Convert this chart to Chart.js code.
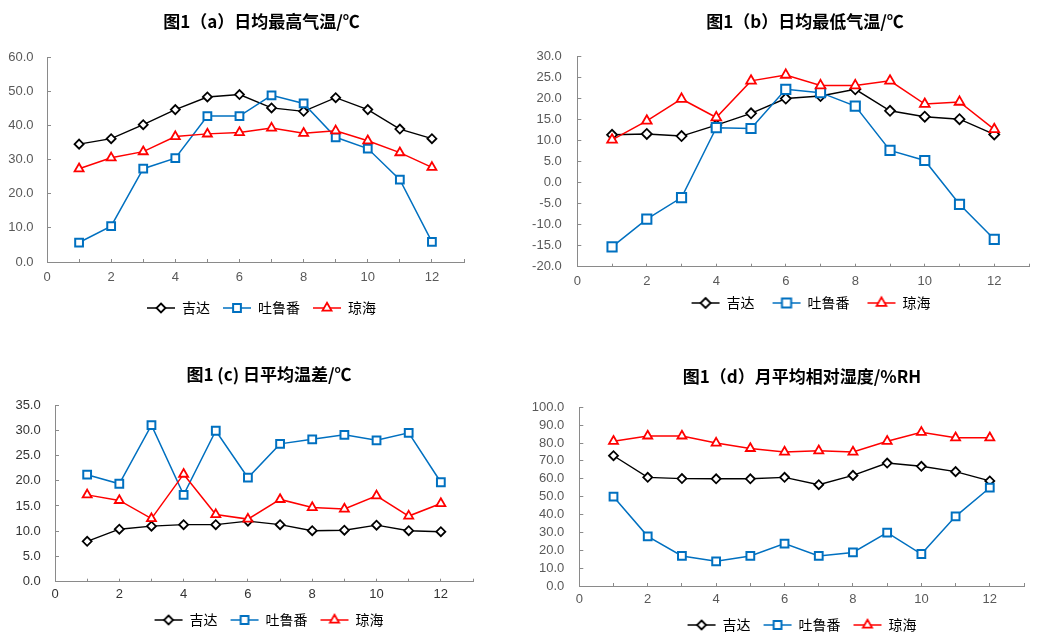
<!DOCTYPE html>
<html>
<head>
<meta charset="utf-8">
<script src="https://cdn.jsdelivr.net/npm/chart.js@4.4.1/dist/chart.umd.min.js"></script>
<style>
  html, body { margin: 0; padding: 0; background: #fff; overflow: hidden; width: 1044px; height: 639px; }
  canvas { position: absolute; }
</style>
</head>
<body>
<canvas id="chartA"></canvas>
<canvas id="chartB"></canvas>
<canvas id="chartC"></canvas>
<canvas id="chartD"></canvas>
<script>
// months on the x axis
const months = [1, 2, 3, 4, 5, 6, 7, 8, 9, 10, 11, 12]
const cities = ['吉达', '吐鲁番', '琼海']

// (a) daily mean max temperature
const maxJida = [34.5, 36.1, 40.2, 44.6, 48.3, 49.0, 45.1, 44.1, 48.1, 44.6, 38.9, 36.1]
const maxTurpan = [5.7, 10.5, 27.3, 30.4, 42.7, 42.7, 48.8, 46.4, 36.5, 33.2, 24.1, 5.9]
const maxQionghai = [27.3, 30.5, 32.3, 36.7, 37.5, 37.9, 39.2, 37.7, 38.4, 35.5, 32.0, 27.7]

// (b) daily mean min temperature
const minJida = [11.3, 11.5, 11.0, 13.6, 16.4, 19.9, 20.5, 22.1, 17.0, 15.6, 15.0, 11.4]
const minTurpan = [-15.3, -8.7, -3.6, 13.0, 12.8, 22.1, 21.3, 18.1, 7.6, 5.2, -5.2, -13.5]
const minQionghai = [10.1, 14.6, 19.8, 15.4, 24.1, 25.5, 23.0, 23.0, 24.1, 18.6, 19.1, 12.6]

// (c) daily mean temperature range
const diffJida = [8.0, 10.4, 11.0, 11.3, 11.3, 12.0, 11.3, 10.1, 10.2, 11.2, 10.1, 9.9]
const diffTurpan = [21.2, 19.4, 31.0, 17.2, 29.9, 20.6, 27.3, 28.2, 29.1, 28.0, 29.5, 19.7]
const diffQionghai = [17.2, 16.1, 12.5, 21.3, 13.3, 12.4, 16.3, 14.7, 14.4, 17.0, 13.0, 15.5]

// (d) monthly mean relative humidity
const rhJida = [72.9, 60.8, 60.1, 60.0, 60.0, 60.8, 56.7, 61.9, 68.8, 67.0, 64.0, 58.8]
const rhTurpan = [50.0, 27.8, 16.8, 13.8, 16.8, 23.7, 16.8, 18.8, 29.9, 17.9, 39.0, 55.0]
const rhQionghai = [81.0, 84.0, 84.0, 80.0, 77.0, 75.0, 75.7, 75.0, 81.0, 86.0, 83.0, 83.0]

const AXIS = '#8a8a8a'
const TEXT = '#595959'
const CJK = '"Noto Sans CJK SC", "Noto Sans", sans-serif'
const NUM = '"Liberation Sans", Arial, sans-serif'

const styles = [
  { color: '#000000', shape: 'diamond', line: 1.4, border: 1.8 },
  { color: '#0070C0', shape: 'square', line: 1.5, border: 2 },
  { color: '#FF0000', shape: 'triangle', line: 1.5, border: 1.8 }
]

function drawShape(g, shape, cx, cy, r) {
  g.beginPath()
  if (shape === 'diamond') {
    g.moveTo(cx, cy - r); g.lineTo(cx + r, cy); g.lineTo(cx, cy + r); g.lineTo(cx - r, cy)
  } else if (shape === 'square') {
    let s = r * Math.SQRT1_2
    g.rect(cx - s, cy - s, 2 * s, 2 * s)
  } else {
    for (let k = 0; k < 3; k++) {
      let a = k * 2 * Math.PI / 3
      let px = cx + Math.sin(a) * r, py = cy - Math.cos(a) * r
      if (k === 0) g.moveTo(px, py); else g.lineTo(px, py)
    }
  }
  g.closePath()
  g.fillStyle = '#fff'
  g.fill()
  g.stroke()
}

// legend symbol: line with the marker on it, `lead` px of blank space before it
function legendIcon(st, r, lead) {
  let boxW = 28 + lead
  let c = document.createElement('canvas')
  c.width = boxW * 2
  c.height = 16
  let g = c.getContext('2d')
  let x0 = boxW / 2 + lead
  g.strokeStyle = st.color
  g.lineWidth = 1.5
  g.beginPath(); g.moveTo(x0, 8); g.lineTo(x0 + 28, 8); g.stroke()
  g.lineWidth = st.border
  drawShape(g, st.shape, x0 + 14, 8, r)
  return c
}

function makeChart(id, geo, title, values, yMin, yMax, yStep, sizes) {
  let canvas = document.getElementById(id)
  canvas.width = geo.w
  canvas.height = geo.h
  canvas.style.left = geo.left + 'px'
  canvas.style.top = geo.top + 'px'
  let lead = geo.lead || 0
  let shapeToStyle = { diamond: 'rectRot', square: 'rect', triangle: 'triangle' }
  let datasets = values.map((vals, i) => ({
    label: cities[i],
    data: months.map((m, j) => ({ x: m, y: vals[j] })),
    borderColor: styles[i].color,
    borderWidth: styles[i].line,
    pointStyle: shapeToStyle[styles[i].shape],
    pointRadius: sizes[i],
    pointBorderWidth: styles[i].border,
    pointBackgroundColor: '#fff',
    pointBorderColor: styles[i].color,
    fill: false,
    tension: 0,
    order: 3 - i,
    xAxisID: 'x',
    yAxisID: 'y'
  }))
  let icons = values.map((v, i) => legendIcon(styles[i], sizes[i], lead))
  return new Chart(canvas.getContext('2d'), {
    type: 'line',
    data: { datasets: datasets },
    options: {
      responsive: false,
      animation: false,
      layout: { padding: 0 },
      plugins: {
        tooltip: { enabled: false },
        title: {
          display: true,
          text: title,
          color: geo.titleColor || '#000',
          font: { family: CJK, size: 17, weight: 'bold' },
          padding: { top: geo.tTop, bottom: geo.tBot }
        },
        legend: {
          position: 'bottom',
          labels: {
            usePointStyle: true,
            pointStyleWidth: 28 + lead,
            padding: geo.lPad,
            color: geo.textColor || TEXT,
            font: { family: CJK, size: 14 },
            generateLabels: () => cities.map((name, i) => ({
              text: name,
              pointStyle: icons[i],
              fillStyle: 'transparent',
              strokeStyle: 'transparent',
              lineWidth: 0,
              hidden: false,
              datasetIndex: i
            }))
          }
        }
      },
      scales: {
        x: {
          type: 'linear',
          position: 'bottom',
          min: 0,
          max: 13,
          grid: { drawOnChartArea: false, tickLength: -3, color: AXIS },
          border: { color: AXIS },
          ticks: {
            stepSize: 1,
            autoSkip: false,
            maxRotation: 0,
            padding: geo.xPad,
            color: geo.textColor || TEXT,
            font: { family: NUM, size: 13 },
            callback: v => (v % 2 === 0 ? String(v) : '')
          },
          afterFit: s => { s.height = geo.xH }
        },
        y: {
          type: 'linear',
          position: 'left',
          min: yMin,
          max: yMax,
          grid: { drawOnChartArea: false, tickLength: -4, color: AXIS },
          border: { color: AXIS },
          ticks: {
            stepSize: yStep,
            autoSkip: false,
            padding: geo.yPad,
            color: geo.textColor || TEXT,
            font: { family: NUM, size: 13 },
            callback: v => Number(v).toFixed(1)
          },
          afterFit: s => { s.width = geo.yW }
        },
        yr: {
          type: 'linear',
          position: 'right',
          grid: { display: false },
          border: { display: false },
          ticks: { display: false },
          afterFit: s => { s.width = geo.rW }
        }
      }
    }
  })
}

makeChart('chartA',
  { left: 0, top: 0, w: 523, h: 325, yW: 47, rW: 59, tTop: 11.5, tBot: 25.1, xH: 26, xPad: 10.2, yPad: 17.4, lPad: 13 },
  '图1（a）日均最高气温/℃', [maxJida, maxTurpan, maxQionghai], 0, 60, 10, [4.5, 5.5, 5.2])

makeChart('chartB',
  { left: 520, top: 0, w: 570, h: 320, yW: 57.3, rW: 61, tTop: 11.5, tBot: 24.1, xH: 23.3, xPad: 10.2, yPad: 19.6, lPad: 6, lead: 12 },
  '图1（b）日均最低气温/℃', [minJida, minTurpan, minQionghai], -20, 30, 5, [5, 6.5, 5.6])

makeChart('chartC',
  { left: 0, top: 340, w: 538, h: 297, yW: 55, rW: 65, tTop: 24.8, tBot: 19.8, xH: 18.3, xPad: 7.8, yPad: 18.3, lPad: 13, textColor: '#333333' },
  '图1 (c) 日平均温差/℃', [diffJida, diffTurpan, diffQionghai], 0, 35, 5, [4.5, 5.5, 5.2])

makeChart('chartD',
  { left: 525, top: 340, w: 554, h: 302, yW: 54.3, rW: 55, tTop: 26.5, tBot: 20.4, xH: 19, xPad: 8.5, yPad: 19, lPad: 13 },
  '图1（d）月平均相对湿度/%RH', [rhJida, rhTurpan, rhQionghai], 0, 100, 10, [4.5, 5.5, 5.2])
</script>
</body>
</html>
